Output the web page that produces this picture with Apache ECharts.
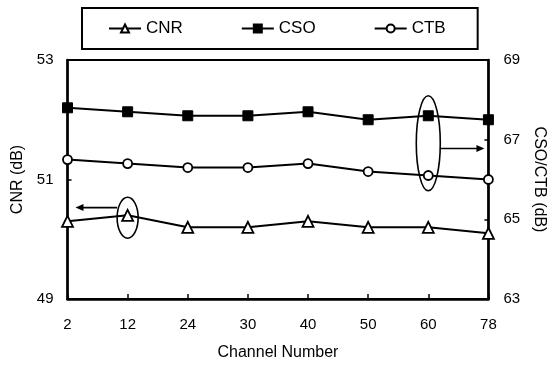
<!DOCTYPE html>
<html>
<head>
<meta charset="utf-8">
<script src="https://cdn.jsdelivr.net/npm/echarts@6/dist/echarts.min.js"></script>
<style>
html,body{margin:0;padding:0;background:#fff;}
#c{width:555px;height:366px;}
</style>
</head>
<body>
<div id="c"></div>
<script>
const channels = ['2','12','24','30','40','50','60','78'];
const cnr = [50.3, 50.4, 50.2, 50.2, 50.3, 50.2, 50.2, 50.1];
const cso = [67.8, 67.7, 67.6, 67.6, 67.7, 67.5, 67.6, 67.5];
const ctb = [66.5, 66.4, 66.3, 66.3, 66.4, 66.2, 66.1, 66.0];
const leftTicks = [49, 51, 53];
const rightTicks = [63, 65, 67, 69];

const FONT = 'Liberation Sans, Arial, sans-serif';
const chart = echarts.init(document.getElementById('c'), null, {renderer: 'canvas'});

const lineStyle = {color: '#000', width: 2};
const option = {
  animation: false,
  backgroundColor: '#fff',
  textStyle: {fontFamily: FONT, color: '#000'},
  legend: {
    left: 82, top: 8,
    padding: [12, 32, 12, 26],
    borderColor: '#000', borderWidth: 2,
    itemGap: 58, itemWidth: 32, itemHeight: 10,
    textStyle: {fontFamily: FONT, fontSize: 17, color: '#000'},
    data: ['CNR', 'CSO', 'CTB']
  },
  grid: {left: 67.5, right: 61.5, top: 60, bottom: 63, show: true, borderColor: '#000', borderWidth: 2},
  xAxis: {
    type: 'category', data: channels, boundaryGap: false,
    name: 'Channel Number', nameLocation: 'middle', nameGap: 46,
    nameTextStyle: {fontFamily: FONT, fontSize: 16, color: '#000'},
    axisLine: {lineStyle: {color: '#000', width: 2.5}},
    axisTick: {inside: true, length: 5, lineStyle: {color: '#000', width: 1.5}},
    axisLabel: {fontFamily: FONT, fontSize: 15, color: '#000', margin: 18},
    splitLine: {show: false}
  },
  yAxis: [{
    type: 'value', min: leftTicks[0], max: leftTicks[leftTicks.length-1], interval: 2,
    name: 'CNR (dB)', nameLocation: 'middle', nameGap: 40,
    nameTextStyle: {fontFamily: FONT, fontSize: 16, color: '#000'},
    axisLine: {show: true, lineStyle: {color: '#000', width: 2.5}},
    axisTick: {show: true, inside: true, length: 4, lineStyle: {color: '#000', width: 1.5}},
    axisLabel: {fontFamily: FONT, fontSize: 15, color: '#000', margin: 14},
    splitLine: {show: false}
  }, {
    type: 'value', min: rightTicks[0], max: rightTicks[rightTicks.length-1], interval: 2,
    position: 'right',
    name: 'CSO/CTB (dB)', nameLocation: 'middle', nameGap: 38, nameRotate: -90,
    nameTextStyle: {fontFamily: FONT, fontSize: 16, color: '#000'},
    axisLine: {show: true, lineStyle: {color: '#000', width: 2.5}},
    axisTick: {show: true, inside: true, length: 4, lineStyle: {color: '#000', width: 1.5}},
    axisLabel: {fontFamily: FONT, fontSize: 15, color: '#000', margin: 15},
    splitLine: {show: false}
  }],
  series: [{
    name: 'CNR', type: 'line', yAxisIndex: 0, data: cnr,
    symbol: 'triangle', symbolSize: 11, showAllSymbol: true,
    lineStyle: lineStyle,
    itemStyle: {color: '#fff', borderColor: '#000', borderWidth: 1.8}
  }, {
    name: 'CSO', type: 'line', yAxisIndex: 1, data: cso,
    symbol: 'rect', symbolSize: 10, showAllSymbol: true,
    lineStyle: lineStyle,
    itemStyle: {color: '#000', borderColor: '#000', borderWidth: 1}
  }, {
    name: 'CTB', type: 'line', yAxisIndex: 1, data: ctb,
    symbol: 'circle', symbolSize: 9, showAllSymbol: true,
    lineStyle: lineStyle,
    itemStyle: {color: '#fff', borderColor: '#000', borderWidth: 1.8}
  }]
};
chart.setOption(option);

// Annotations placed through the axes
function annotations() {
  const e1 = chart.convertToPixel({xAxisIndex: 0, yAxisIndex: 0}, ['12', 50.36]);
  const a1y = chart.convertToPixel({yAxisIndex: 0}, 50.53);
  const x2 = chart.convertToPixel({xAxisIndex: 0}, '2');
  const e2 = chart.convertToPixel({xAxisIndex: 0, yAxisIndex: 1}, ['60', 66.91]);
  const a2y = chart.convertToPixel({yAxisIndex: 1}, 66.78);
  const x78 = chart.convertToPixel({xAxisIndex: 0}, '78');
  const st = {stroke: '#000', lineWidth: 1.6, fill: null};
  const r1x = 10.5, r1y = 20.5, r2x = 12, r2y = 47.5;
  chart.setOption({graphic: [
    {type: 'ellipse', shape: {cx: e1[0], cy: e1[1], rx: r1x, ry: r1y}, style: st, z: 100},
    {type: 'line', shape: {x1: e1[0] - r1x, y1: a1y, x2: x2 + 14, y2: a1y}, style: {stroke: '#000', lineWidth: 1.6}, z: 100},
    {type: 'polygon', shape: {points: [[x2 + 8, a1y], [x2 + 16, a1y - 3.5], [x2 + 16, a1y + 3.5]]}, style: {fill: '#000'}, z: 100},
    {type: 'ellipse', shape: {cx: e2[0], cy: e2[1], rx: r2x, ry: r2y}, style: st, z: 100},
    {type: 'line', shape: {x1: e2[0] + r2x, y1: a2y, x2: x78 - 10, y2: a2y}, style: {stroke: '#000', lineWidth: 1.6}, z: 100},
    {type: 'polygon', shape: {points: [[x78 - 4, a2y], [x78 - 12, a2y - 3.5], [x78 - 12, a2y + 3.5]]}, style: {fill: '#000'}, z: 100}
  ]});
}
annotations();
</script>
</body>
</html>
